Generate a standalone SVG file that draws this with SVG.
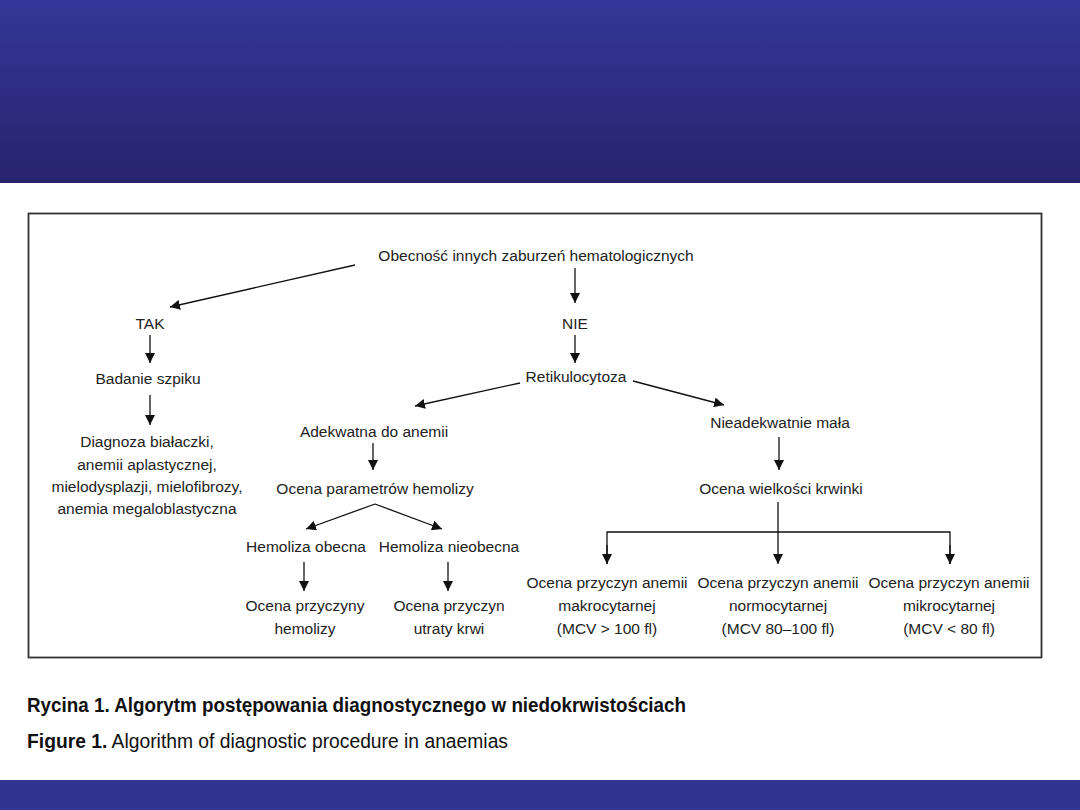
<svg xmlns="http://www.w3.org/2000/svg" width="1080" height="810" viewBox="0 0 1080 810">
<defs>
<linearGradient id="hdr" x1="0" y1="0" x2="0" y2="1">
<stop offset="0" stop-color="#363699"/>
<stop offset="1" stop-color="#26246c"/>
</linearGradient>
<marker id="ah" viewBox="0 0 10 10" refX="10" refY="5" markerWidth="10" markerHeight="10" markerUnits="userSpaceOnUse" orient="auto">
<path d="M0,0 L10,5 L0,10 z" fill="#111"/>
</marker>
<style>
text{font-family:"Liberation Sans",Arial,sans-serif;fill:#222;}
.n{font-size:15.5px;text-anchor:middle;}
.c{font-size:20px;fill:#111;}
.b{font-weight:bold;}
#connectors line,#connectors path{stroke:#111;stroke-width:1.3;fill:none;}
</style>
</defs>
<rect x="0" y="0" width="1080" height="810" fill="#fff"/>
<rect x="0" y="0" width="1080" height="183" fill="url(#hdr)"/>
<rect x="0" y="780" width="1080" height="30" fill="#333391"/>
<rect x="28.5" y="213.5" width="1013" height="444" fill="#fff" stroke="#333" stroke-width="1.8"/>

<g id="connectors">
<line x1="355" y1="265" x2="170" y2="307" marker-end="url(#ah)"/>
<line x1="575" y1="268" x2="575" y2="303" marker-end="url(#ah)"/>
<line x1="150" y1="335" x2="150" y2="363" marker-end="url(#ah)"/>
<line x1="150" y1="395" x2="150" y2="425" marker-end="url(#ah)"/>
<line x1="575" y1="335" x2="575" y2="363" marker-end="url(#ah)"/>
<line x1="520" y1="383" x2="415" y2="406" marker-end="url(#ah)"/>
<line x1="633" y1="381" x2="724" y2="405" marker-end="url(#ah)"/>
<line x1="373" y1="443" x2="373" y2="470" marker-end="url(#ah)"/>
<line x1="375" y1="504" x2="306" y2="529" marker-end="url(#ah)"/>
<line x1="375" y1="504" x2="442" y2="529" marker-end="url(#ah)"/>
<line x1="304" y1="562" x2="304" y2="591" marker-end="url(#ah)"/>
<line x1="448" y1="562" x2="448" y2="591" marker-end="url(#ah)"/>
<line x1="779" y1="437" x2="779" y2="470" marker-end="url(#ah)"/>
<line x1="778" y1="502" x2="778" y2="564" marker-end="url(#ah)"/>
<path d="M607,564 V532 H950 V564"/>
<line x1="607" y1="545" x2="607" y2="564" marker-end="url(#ah)"/>
<line x1="950" y1="545" x2="950" y2="564" marker-end="url(#ah)"/>
</g>

<g id="n-obecnosc"><text class="n" x="536" y="261">Obecność innych zaburzeń hematologicznych</text></g>
<g id="n-tak"><text class="n" x="150" y="329">TAK</text></g>
<g id="n-nie"><text class="n" x="575" y="329">NIE</text></g>
<g id="n-badanie"><text class="n" x="148" y="384">Badanie szpiku</text></g>
<g id="n-diagnoza"><text class="n" x="147" y="447">Diagnoza białaczki,</text><text class="n" x="147" y="470">anemii aplastycznej,</text><text class="n" x="147" y="492">mielodysplazji, mielofibrozy,</text><text class="n" x="147" y="514">anemia megaloblastyczna</text></g>
<g id="n-retikulocytoza"><text class="n" x="576" y="382">Retikulocytoza</text></g>
<g id="n-adekwatna"><text class="n" x="374" y="437">Adekwatna do anemii</text></g>
<g id="n-nieadekwatnie"><text class="n" x="780" y="428">Nieadekwatnie mała</text></g>
<g id="n-parametry"><text class="n" x="375" y="494">Ocena parametrów hemolizy</text></g>
<g id="n-wielkosc"><text class="n" x="781" y="494">Ocena wielkości krwinki</text></g>
<g id="n-hem-obecna"><text class="n" x="306" y="552">Hemoliza obecna</text></g>
<g id="n-hem-nieobecna"><text class="n" x="449" y="552">Hemoliza nieobecna</text></g>
<g id="n-przyczyny-hem"><text class="n" x="305" y="611">Ocena przyczyny</text><text class="n" x="305" y="634">hemolizy</text></g>
<g id="n-utrata"><text class="n" x="449" y="611">Ocena przyczyn</text><text class="n" x="449" y="634">utraty krwi</text></g>
<g id="n-makro"><text class="n" x="607" y="588">Ocena przyczyn anemii</text><text class="n" x="607" y="611">makrocytarnej</text><text class="n" x="607" y="634">(MCV &gt; 100 fl)</text></g>
<g id="n-normo"><text class="n" x="778" y="588">Ocena przyczyn anemii</text><text class="n" x="778" y="611">normocytarnej</text><text class="n" x="778" y="634">(MCV 80–100 fl)</text></g>
<g id="n-mikro"><text class="n" x="949" y="588">Ocena przyczyn anemii</text><text class="n" x="949" y="611">mikrocytarnej</text><text class="n" x="949" y="634">(MCV &lt; 80 fl)</text></g>

<g id="caption">
<text class="c b" x="27" y="712" textLength="659" lengthAdjust="spacingAndGlyphs">Rycina 1. Algorytm postępowania diagnostycznego w niedokrwistościach</text>
<text class="c" x="27" y="748" textLength="481" lengthAdjust="spacingAndGlyphs"><tspan class="b">Figure 1.</tspan> Algorithm of diagnostic procedure in anaemias</text>
</g>
</svg>
